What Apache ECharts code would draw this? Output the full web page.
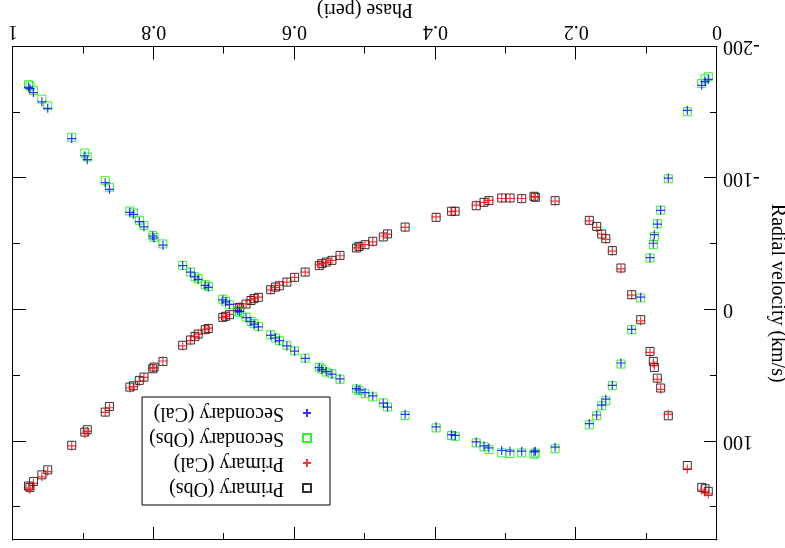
<!DOCTYPE html>
<html>
<head>
<meta charset="utf-8">
<script src="https://cdn.jsdelivr.net/npm/echarts@6/dist/echarts.min.js"></script>
<style>
html,body{margin:0;padding:0;background:#fff;}
#chart{width:785px;height:548px;transform:rotate(180deg);transform-origin:50% 50%;}
</style>
</head>
<body>
<div id="chart"></div>
<script>
// Orbital phase of each observation
var phase = [0.0124,0.017,0.0217,0.0422,0.0692,0.080,0.0848,0.089,0.0905,0.0952,
  0.1084,0.1212,0.1364,0.1487,0.158,0.1638,0.1709,0.1814,0.230,0.258,
  0.260,0.2774,0.294,0.3058,0.324,0.331,0.342,0.372,0.377,0.399,
  0.443,0.468,0.474,0.489,0.500,0.5085,0.512,0.5355,0.547,0.555,
  0.5615,0.565,0.585,0.600,0.611,0.6217,0.627,0.634,0.6515,0.6577,
  0.662,0.669,0.678,0.681,0.6925,0.698,0.702,0.7226,0.727,0.737,
  0.7415,0.748,0.759,0.787,0.7997,0.8016,0.814,0.8206,0.829,0.834,
  0.863,0.869,0.8945,0.898,0.9166,0.9507,0.959,0.971,0.9759,0.978];

var primaryObs = [138,136,135,118.4,80.6,59.5,52,43.9,39.3,31.7,
  7.6,-11.4,-31.7,-44.9,-54,-57.5,-63.3,-67.9,-82.9,-85.4,
  -86.2,-84.4,-84.9,-84.9,-82.9,-81.6,-79,-74.8,-74.8,-70.2,
  -62.8,-57.6,-55.3,-52,-49.4,-48,-46.9,-41.3,-37.5,-36.2,
  -35,-33.5,-28.6,-24.6,-21,-18.2,-17.2,-15.2,-9.4,-8.4,
  -7,-4.3,-1.8,-1.3,3.8,5,5.8,14.3,15.2,18.5,
  20.3,23,27,39.3,43.6,44.9,51.2,53.7,57.8,58.8,
  73.5,77.8,91.2,93,103,121.7,125.5,130.5,135,134];

var primaryCal = [140,138.5,137,121,79.5,60.5,53,42.5,40.5,32.5,
  8.5,-11,-31,-44.5,-53.5,-57.5,-62.5,-67.5,-82.5,-85.5,
  -86,-84.5,-84.5,-84.5,-83,-81.5,-79.5,-75,-74.5,-70.5,
  -62.5,-57.5,-56,-51.5,-49.5,-48.5,-47,-41,-37.5,-36,
  -35,-34,-28.5,-24.5,-21,-18.5,-17,-15,-9.5,-8.5,
  -7.5,-4.5,-2,-1,3.5,5,6,14,15,18.5,
  20.5,23.5,27.5,39,44,44.5,51.5,54.5,58.5,59.5,
  74.5,78,92.5,94,103.5,123,127,132,136.5,135.5];

var secondaryObs = [-177,-175.5,-172,-150.5,-99.5,-75.7,-65.4,-55.7,-49.4,-39.3,
  -8.9,15.2,41.3,57.8,69.2,73,80.6,87.5,105.7,109,
  109.8,108.8,109.3,108.8,106.3,104.2,101.2,96.2,95.6,89.8,
  80.5,73.9,70.8,66.3,63.8,61.5,60.2,52.8,48.7,47.4,
  45,43.6,36.8,31.2,27,23.6,21.5,19,12.7,10.6,
  8.9,5.6,2,0.8,-3.8,-6.3,-8,-17.7,-19,-23.5,
  -25,-28.6,-33.7,-50,-55,-56.5,-64,-68,-73.5,-75,
  -93,-98,-116,-119,-131,-155,-160,-166.5,-170,-171];

var secondaryCal = [-175,-173.5,-170.5,-151.5,-100,-75.5,-65,-57,-50.5,-39.5,
  -9.5,15,40.5,57.5,68,72.5,80,86.5,104.5,107.5,
  108,107.5,107.5,107,105,103.5,100.5,95.5,95,89,
  79.5,74,71,65.5,63,61,60,52.5,49,47,
  45.5,44,37,31.5,27.5,23.5,21.5,19.5,13,11,
  9,6,1.5,0.5,-4,-6,-7.5,-17,-18.5,-23,
  -25,-28.5,-33.5,-49,-54.5,-56,-63,-67,-72.5,-74,
  -91.5,-96.5,-114,-117,-130,-153,-158,-165,-168,-169];

var xTicks = {min: 0, max: 1, interval: 0.2};
var yTicks = {min: -200, max: 175, interval: 100};

function pairs(xs, ys) {
  var out = [];
  for (var i = 0; i < xs.length; i++) out.push([xs[i], ys[i]]);
  return out;
}

var FONT = 'Liberation Serif';
var plusPath = 'path://M0,5L10,5M5,0L5,10';

function xAxisDef(pos, labels) {
  return {
    type: 'value', position: pos, min: xTicks.min, max: xTicks.max, interval: xTicks.interval,
    axisLine: {show: true, onZero: false, lineStyle: {color: '#000', width: 1}},
    axisTick: {show: true, inside: true, length: 13, lineStyle: {color: '#000', width: 1}},
    minorTick: {show: true, splitNumber: 2, length: 7, lineStyle: {color: '#000', width: 1}},
    splitLine: {show: false},
    minorSplitLine: {show: false},
    axisLabel: {show: labels, fontFamily: FONT, fontSize: 20, color: '#000', margin: 5},
    name: labels ? 'Phase (peri)' : '',
    nameLocation: 'middle', nameGap: 27, nameMoveOverlap: false,
    nameTextStyle: {fontFamily: FONT, fontSize: 20, color: '#000'}
  };
}
function yAxisDef(pos, labels) {
  return {
    type: 'value', position: pos, min: yTicks.min, max: yTicks.max, interval: yTicks.interval,
    axisLine: {show: true, onZero: false, lineStyle: {color: '#000', width: 1}},
    axisTick: {show: true, inside: true, length: 13, lineStyle: {color: '#000', width: 1}},
    minorTick: {show: true, splitNumber: 2, length: 7, lineStyle: {color: '#000', width: 1}},
    splitLine: {show: false},
    minorSplitLine: {show: false},
    axisLabel: {show: labels, fontFamily: FONT, fontSize: 20, color: '#000', margin: 6, showMaxLabel: false},
    name: labels ? 'Radial velocity (km/s)' : '',
    nameLocation: 'middle', nameGap: 50, nameMoveOverlap: false,
    nameTextStyle: {fontFamily: FONT, fontSize: 20, color: '#000'}
  };
}

var chart = echarts.init(document.getElementById('chart'), null, {renderer: 'canvas'});
chart.setOption({
  animation: false,
  backgroundColor: '#fff',
  grid: {left: 68, right: 13, top: 8, bottom: 46.5, containLabel: false, outerBoundsMode: 'none'},
  xAxis: [xAxisDef('bottom', true), xAxisDef('top', false)],
  yAxis: [yAxisDef('left', true), yAxisDef('right', false)],
  legend: {
    show: true, orient: 'vertical', left: 455, top: 43,
    backgroundColor: '#fff', borderColor: '#000', borderWidth: 1,
    padding: [7, 7, 6, 18], itemGap: 5, itemWidth: 8, itemHeight: 8,
    textStyle: {fontFamily: FONT, fontSize: 20, color: '#000', padding: [0, 0, 0, 14]},
    data: ['Primary (Obs)', 'Primary (Cal)', 'Secondary (Obs)', 'Secondary (Cal)']
  },
  series: [
    {name: 'Primary (Obs)', type: 'scatter', data: pairs(phase, primaryObs), symbol: 'rect', symbolSize: 8,
      itemStyle: {color: 'rgba(0,0,0,0)', borderColor: '#000', borderWidth: 1}},
    {name: 'Primary (Cal)', type: 'scatter', data: pairs(phase, primaryCal), symbol: plusPath, symbolSize: 9,
      itemStyle: {color: '#ff0000', borderColor: '#ff0000', borderWidth: 1.2}},
    {name: 'Secondary (Obs)', type: 'scatter', data: pairs(phase, secondaryObs), symbol: 'rect', symbolSize: 8,
      itemStyle: {color: 'rgba(0,0,0,0)', borderColor: '#00ee00', borderWidth: 1}},
    {name: 'Secondary (Cal)', type: 'scatter', data: pairs(phase, secondaryCal), symbol: plusPath, symbolSize: 9,
      itemStyle: {color: '#0000ff', borderColor: '#0000ff', borderWidth: 1.2}}
  ]
});
</script>
</body>
</html>
